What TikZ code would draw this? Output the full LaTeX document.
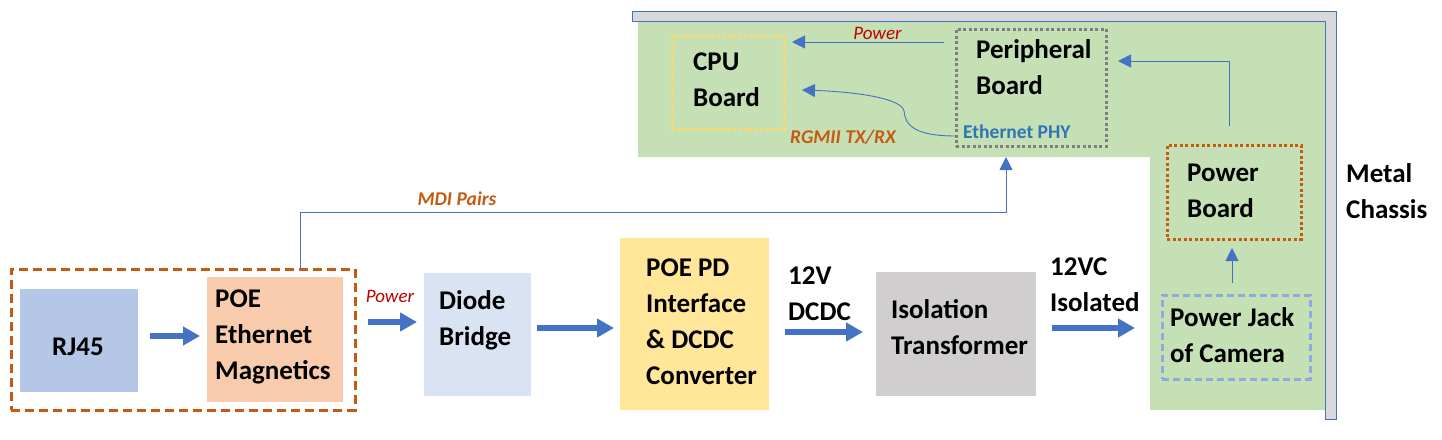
\documentclass[tikz,border=0pt]{standalone}
\usepackage{fontspec}
\setmainfont{Carlito}
\usetikzlibrary{arrows.meta,calc}
\definecolor{arrblue}{HTML}{4472C4}
\definecolor{boardgreen}{HTML}{C5E0B4}
\definecolor{chassisgray}{HTML}{D9D9D9}
\definecolor{orangeln}{HTML}{C55A11}
\definecolor{redlbl}{HTML}{C00000}
\definecolor{phyblue}{HTML}{2E75B6}
\definecolor{cpuyellow}{HTML}{FFD966}
\definecolor{perigray}{HTML}{7F7F7F}
\definecolor{jackblue}{HTML}{8FAADC}
\definecolor{rjfill}{HTML}{B4C7E7}
\definecolor{magfill}{HTML}{F8CBAD}
\definecolor{diodefill}{HTML}{DAE3F3}
\definecolor{pdfill}{HTML}{FFE699}
\definecolor{isofill}{HTML}{D0CECE}
\begin{document}
\begin{tikzpicture}[x=1pt,y=-1pt,
  box/.style={inner sep=0pt, outer sep=0pt},
  dotbox/.style={box, line width=3pt, dash pattern=on 3pt off 2.5pt},
  txt/.style={font=\bfseries\fontsize{27}{36}\selectfont, align=left, inner sep=0pt, anchor=west},
  small/.style={font=\fontsize{19.5}{23}\selectfont, inner sep=0pt},
  bigarrow/.style={arrblue, line width=6pt, -{Triangle[length=17pt,width=18pt]}},
  thinarrow/.style={arrblue, line width=0.9pt, -{Triangle[length=13pt,width=13pt]}}]
\useasboundingbox (0,0) rectangle (1442,439);
% board area and chassis
\fill[boardgreen] (638,21) -- (1325,21) -- (1325,410) -- (1150,410) -- (1150,157) -- (638,157) -- cycle;
\filldraw[fill=chassisgray, draw=arrblue, line width=0.8pt] (632,11) -- (1336,11) -- (1336,419) -- (1325,419) -- (1325,21) -- (632,21) -- cycle;
% boxes
\node[box, draw=orangeln, line width=3pt, dash pattern=on 9pt off 5pt, minimum width=344, minimum height=141] (poe) at (183,339.5) {};
\node[box, fill=rjfill, minimum width=118, minimum height=103] (rj) at (79,340.5) {};
\node[box, fill=magfill, minimum width=136, minimum height=125] (mag) at (275,339.5) {};
\node[box, fill=diodefill, minimum width=107, minimum height=123] (diode) at (477.5,334.5) {};
\node[box, fill=pdfill, minimum width=149, minimum height=172] (pd) at (694.5,324) {};
\node[box, fill=isofill, minimum width=160, minimum height=124] (iso) at (956,334) {};
\node[dotbox, draw=cpuyellow, minimum width=112, minimum height=93] (cpu) at (728,82.5) {};
\node[dotbox, draw=perigray, minimum width=150, minimum height=117] (peri) at (1031,87.5) {};
\node[dotbox, draw=orangeln, minimum width=134, minimum height=94] (pb) at (1234,192) {};
\node[box, draw=jackblue, line width=3pt, dash pattern=on 7pt off 4pt, minimum width=148, minimum height=84] (jack) at (1236,337) {};
% texts
\node[txt, anchor=center] (rjT) at (78,347) {RJ45};
\node[txt] (magT) at (215,337) {POE\\Ethernet\\Magnetics};
\node[txt] (diodeT) at (439,320) {Diode\\Bridge};
\node[txt] (pdT) at (646,321.5) {POE PD\\Interface\\\& DCDC\\Converter};
\node[txt] (dcT) at (788,293.5) {12V\\DCDC};
\node[txt] (isoT) at (891,327.5) {Isolation\\Transformer};
\node[txt] (isoOutT) at (1050,285) {12VC\\Isolated};
\node[txt] (jackT) at (1170,335.5) {Power Jack\\of Camera};
\node[txt] (pbT) at (1187,191) {Power\\Board};
\node[txt] (periT) at (976,67.5) {Peripheral\\Board};
\node[txt] (cpuT) at (693,80) {CPU\\Board};
\node[txt] (chassisT) at (1346,191) {Metal\\Chassis};
\node[small, font=\bfseries\fontsize{19.5}{23}\selectfont, text=phyblue, anchor=west] (phyT) at (963,132) {Ethernet PHY};
% connectors
\draw[bigarrow] ($(rj.east)+(12,-4.5)$) -- ($(mag.west |- rj.east)+(-7,-4.5)$);
\draw[bigarrow] ($(mag.east)+(25,-17.5)$) -- ($(diode.west |- mag.east)+(-7,-17.5)$);
\draw[bigarrow] ($(diode.east)+(6,-6.5)$) -- ($(pd.west |- diode.east)+(-6,-6.5)$);
\draw[bigarrow] ($(pd.east)+(16,8)$) -- ($(iso.west |- pd.east)+(-13,8)$);
\draw[bigarrow] ($(iso.east)+(16,-6)$) -- ($(jack.west |- iso.east)+(-27,-6)$);
\draw[thinarrow] ($(jack.north)+(-4,-12)$) -- ($(pb.south -| jack.north)+(-4,9)$);
\draw[thinarrow] ($(pb.north)+(-5,-19)$) |- ($(peri.east)+(12,-26.5)$);
\draw[thinarrow] ($(peri.west)+(-12,-45.5)$) -- ($(cpu.east)+(8,-40.5)$);
\draw[thinarrow] ($(peri.south west)+(0,-10)$) .. controls (916,136) and (905,126) .. (904,111)
  .. controls (902,99) and (860,92) .. ($(cpu.east)+(18,7.5)$);
\draw[thinarrow] ($(poe.north)+(117,0)$) |- ($(peri.south)+(-25,66)$) -- ($(peri.south)+(-25,11)$);
% connector labels
\node[small, font=\itshape\fontsize{19}{23}\selectfont, text=redlbl] (pwrTopT) at (877.5,33) {Power};
\node[small, font=\itshape\fontsize{19}{23}\selectfont, text=redlbl] (pwrBotT) at (390,296) {Power};
\node[small, font=\bfseries\itshape\fontsize{19.5}{23}\selectfont, text=orangeln] (rgmiiT) at (843,137) {RGMII TX/RX};
\node[small, font=\bfseries\itshape\fontsize{19.5}{23}\selectfont, text=orangeln] (mdiT) at (457,199) {MDI Pairs};
\end{tikzpicture}
\end{document}
